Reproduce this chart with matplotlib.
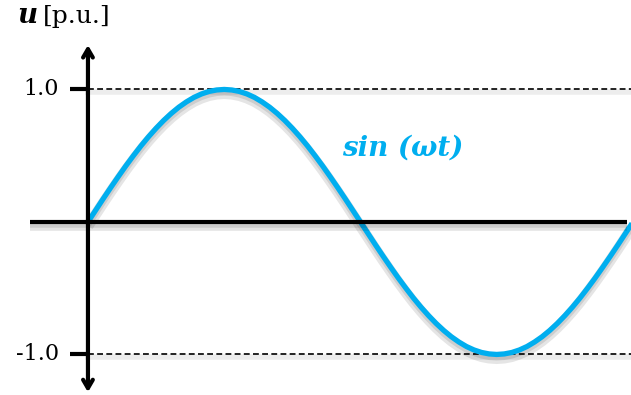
import matplotlib
matplotlib.use("Agg")
import matplotlib.pyplot as plt
import matplotlib.patheffects as pe
import matplotlib.transforms as mtransforms

# phase angle (degrees, 5 deg steps) and per-unit value
phase_deg = list(range(0, 365, 5))
u_pu = [0.000, 0.087, 0.174, 0.259, 0.342, 0.423, 0.500, 0.574, 0.643, 0.707, 0.766, 0.819,
        0.866, 0.906, 0.940, 0.966, 0.985, 0.996, 1.000, 0.996, 0.985, 0.966, 0.940, 0.906,
        0.866, 0.819, 0.766, 0.707, 0.643, 0.574, 0.500, 0.423, 0.342, 0.259, 0.174, 0.087,
        0.000, -0.087, -0.174, -0.259, -0.342, -0.423, -0.500, -0.574, -0.643, -0.707, -0.766, -0.819,
        -0.866, -0.906, -0.940, -0.966, -0.985, -0.996, -1.000, -0.996, -0.985, -0.966, -0.940, -0.906,
        -0.866, -0.819, -0.766, -0.707, -0.643, -0.574, -0.500, -0.423, -0.342, -0.259, -0.174, -0.087,
        0.000]
level_values = [1.0, -1.0]
level_labels = ["1.0", "-1.0"]

blue = "#00AEEF"
serif = "DejaVu Serif"

def shadow(lw):
    return [pe.SimpleLineShadow(offset=(0, -3), shadow_color="black", alpha=0.10, linewidth=lw + 4),
            pe.SimpleLineShadow(offset=(0, -2), shadow_color="black", alpha=0.10, linewidth=lw + 1),
            pe.Normal()]

fig = plt.figure(figsize=(6.31, 3.95), dpi=100)
ax = fig.add_axes([0, 0, 1, 1])
ax.set_xlim(-58.1, 358.7)
ax.set_ylim(-1.306, 1.675)
ax.axis("off")

down = mtransforms.offset_copy(ax.transData, fig=fig, x=0, y=-3, units="dots")

# dashed reference levels and tick marks
for v, lab in zip(level_values, level_labels):
    ax.plot([0, 360], [v, v], color="black", lw=4, alpha=0.07, transform=down, zorder=1)
    ax.plot([0, 360], [v, v], color="black", lw=1.2, ls=(0, (3.5, 2)), zorder=1)
    ax.plot([-12, 0], [v, v], color="black", lw=3, solid_capstyle="butt", zorder=3)
    ax.text(-19, v, lab, ha="right", va="center", fontsize=16, family=serif)

# horizontal axis
ax.plot([-38.3, 356], [0, 0], color="black", lw=3, solid_capstyle="butt", zorder=3,
        path_effects=shadow(3))

# vertical axis with arrows on both ends
ax.annotate("", xy=(0, 1.335), xytext=(0, -1.285),
            arrowprops=dict(arrowstyle="<->,head_length=0.6,head_width=0.35", lw=3,
                            color="black", shrinkA=0, shrinkB=0),
            zorder=4)

# sine curve
ax.plot(phase_deg, u_pu, color=blue, lw=3.8, solid_capstyle="butt", zorder=2,
        path_effects=shadow(3.8))

ax.text(168, 0.56, "sin (ωt)", color=blue, fontsize=20, fontweight="bold",
        fontstyle="italic", family=serif, ha="left", va="center")

ax.text(-46.5, 1.50, "u", fontsize=20, fontweight="bold", fontstyle="italic",
        family=serif, ha="left", va="baseline")
ax.text(-30, 1.50, "[p.u.]", fontsize=18, family=serif, ha="left", va="baseline")

fig.savefig("out.png", dpi=100)
